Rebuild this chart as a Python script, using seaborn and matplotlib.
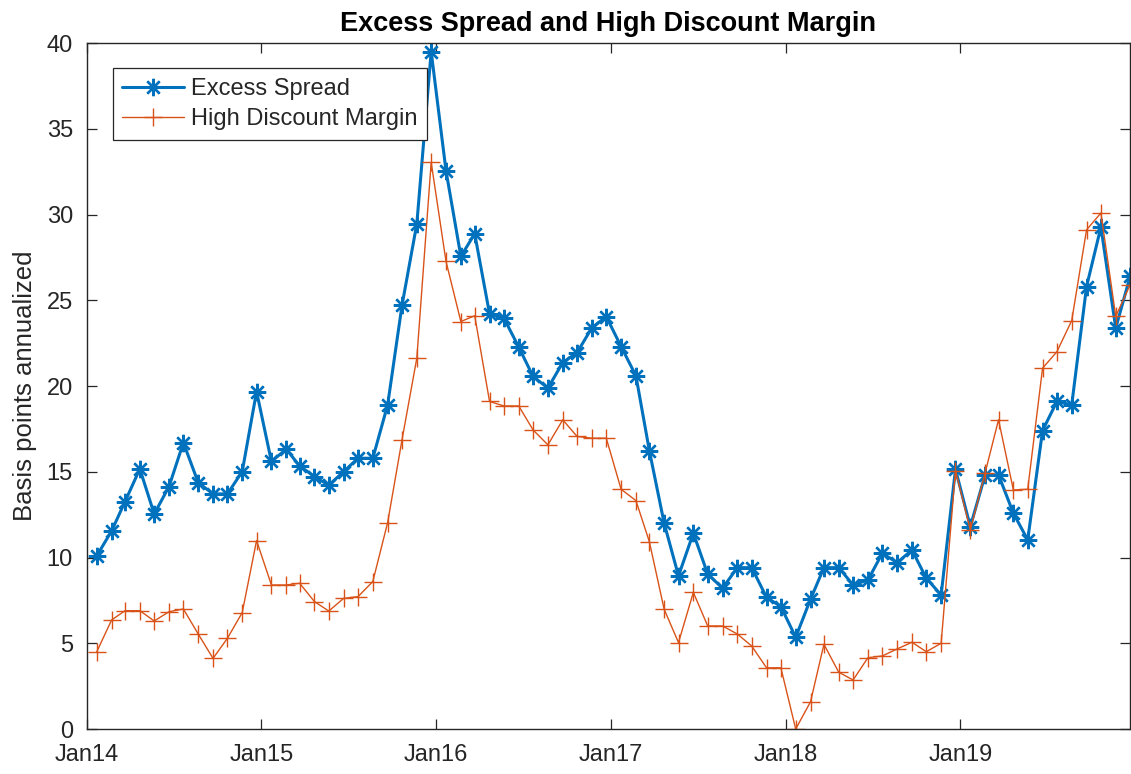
# Excess spread vs high discount margin, monthly 2014-2019
import pandas as pd
import numpy as np
import matplotlib
matplotlib.use('Agg')
import matplotlib.pyplot as plt
import matplotlib.dates as mdates
import seaborn as sns

# monthly observations (payment dates, around the 22nd)
dates = pd.date_range('2014-01-01', periods=72, freq='MS') + pd.Timedelta(days=21)

excess_spread = [10.1, 11.55, 13.26, 15.17, 12.54, 14.14, 16.7, 14.37, 13.71, 13.71, 15.01, 19.68,
                 15.6, 16.32, 15.34, 14.72, 14.22, 15.01, 15.79, 15.79, 18.9, 24.7, 29.46, 39.5,
                 32.55, 27.56, 28.88, 24.21, 23.96, 22.27, 20.56, 19.88, 21.37, 21.95, 23.4, 24.05,
                 22.3, 20.6, 16.24, 12.0, 8.93, 11.42, 9.04, 8.21, 9.41, 9.41, 7.68, 7.14,
                 5.35, 7.57, 9.41, 9.41, 8.4, 8.69, 10.25, 9.7, 10.44, 8.79, 7.82, 15.15,
                 11.8, 14.82, 14.82, 12.58, 11.03, 17.4, 19.1, 18.9, 25.8, 29.27, 23.38, 26.39]

high_dm = [4.51, 6.36, 6.9, 6.9, 6.3, 6.84, 7.0, 5.54, 4.12, 5.29, 6.79, 10.99,
           8.4, 8.4, 8.5, 7.43, 6.88, 7.62, 7.72, 8.6, 12.04, 16.86, 21.63, 33.04,
           27.27, 23.76, 24.1, 19.1, 18.84, 18.84, 17.44, 16.57, 18.03, 17.06, 16.96, 16.96,
           13.98, 13.32, 10.93, 6.98, 5.04, 7.97, 6.01, 6.01, 5.54, 4.84, 3.57, 3.57,
           0.0, 1.59, 4.94, 3.31, 2.86, 4.16, 4.26, 4.67, 5.06, 4.51, 5.0, 15.07,
           11.61, 14.95, 18.03, 13.94, 13.98, 21.04, 22.0, 23.82, 29.11, 30.09, 24.06, 25.9]

df = pd.DataFrame({'date': dates, 'Excess Spread': excess_spread,
                   'High Discount Margin': high_dm})

sns.set_style('ticks')
plt.rcParams['font.family'] = ['Liberation Sans', 'DejaVu Sans']
plt.rcParams['axes.edgecolor'] = '#262626'
plt.rcParams['xtick.color'] = '#262626'
plt.rcParams['ytick.color'] = '#262626'

fig = plt.figure(figsize=(11.31, 7.74), dpi=100)
ax = fig.add_axes([0.0767, 0.0581, 0.9225, 0.8863])

sns.lineplot(data=df, x='date', y='Excess Spread', ax=ax, color='#0072BD',
             linewidth=2.2, marker=(8, 2, 0), markersize=12.5,
             markeredgecolor='#0072BD', markeredgewidth=1.7, label='Excess Spread')
sns.lineplot(data=df, x='date', y='High Discount Margin', ax=ax, color='#D95319',
             linewidth=1.0, marker='+', markersize=13,
             markeredgecolor='#D95319', markeredgewidth=1.0, label='High Discount Margin')

ax.set_xlim(pd.Timestamp('2014-01-01'), dates[-1])
ax.set_ylim(0, 40)
ax.set_yticks(np.arange(0, 41, 5))
ax.xaxis.set_major_locator(mdates.YearLocator())
ax.xaxis.set_major_formatter(mdates.DateFormatter('%b%y'))

ax.tick_params(direction='in', length=7, width=0.9, labelsize=17,
               top=True, right=True, labelcolor='#262626')
ax.tick_params(axis='x', pad=11)
ax.tick_params(axis='y', pad=10)
for s in ax.spines.values():
    s.set_linewidth(1.0)

ax.set_xlabel('')
ax.set_ylabel('Basis points annualized', fontsize=18.5, color='#262626', labelpad=7)
ax.set_title('Excess Spread and High Discount Margin', fontsize=19.5,
             fontweight='bold', color='black', pad=9)

leg = ax.legend(loc='upper left', bbox_to_anchor=(0.025, 0.963), borderaxespad=0,
                fontsize=17, frameon=True, fancybox=False, framealpha=1,
                handlelength=2.6, handletextpad=0.3, borderpad=0.4, labelspacing=0.35)
leg.get_frame().set_edgecolor('#262626')
leg.get_frame().set_linewidth(0.9)

plt.savefig('out.png', dpi=100)
